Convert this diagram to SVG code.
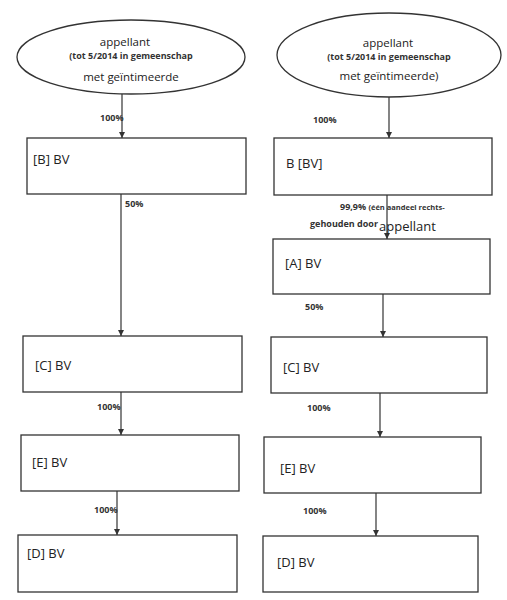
<svg xmlns="http://www.w3.org/2000/svg" width="507" height="600" viewBox="0 0 507 600">
<style>
.box{fill:#fff;stroke:#333;stroke-width:1.3}
.lbl{font-family:"Open Sans","Liberation Sans",sans-serif;font-size:13px;fill:#222}
.et{font-family:"Open Sans","Liberation Sans",sans-serif;font-size:11.5px;fill:#222;text-anchor:middle}
.sm{font-family:"Open Sans","Liberation Sans",sans-serif;font-size:9px;font-weight:bold;fill:#333}
.smc{font-family:"Open Sans","Liberation Sans",sans-serif;font-size:9px;font-weight:bold;fill:#333;text-anchor:middle}
.c{stroke:#333;stroke-width:1.2;fill:none;marker-end:url(#ah)}
</style>
<defs>
<marker id="ah" markerWidth="8" markerHeight="8" refX="6" refY="3" orient="auto" markerUnits="userSpaceOnUse">
<path d="M0,0 L6,3 L0,6 Z" fill="#333"/>
</marker>
</defs>
<rect width="507" height="600" fill="#fff"/>
<g id="connectors">
<line class="c" x1="122" y1="94" x2="122" y2="138"/>
<line class="c" x1="121" y1="194" x2="121" y2="336"/>
<line class="c" x1="121" y1="392" x2="121" y2="435"/>
<line class="c" x1="117" y1="491" x2="117" y2="535"/>
<line class="c" x1="389" y1="97" x2="389" y2="138"/>
<line class="c" x1="387" y1="195" x2="387" y2="239"/>
<line class="c" x1="383" y1="294" x2="383" y2="337"/>
<line class="c" x1="380" y1="393" x2="380" y2="437"/>
<line class="c" x1="376" y1="493" x2="376" y2="536"/>
<text class="sm" x="100" y="121">100%</text>
<text class="sm" x="125" y="207">50%</text>
<text class="sm" x="97" y="410">100%</text>
<text class="sm" x="94" y="513">100%</text>
<text class="sm" x="313" y="123">100%</text>
<text class="sm" x="340" y="210">99,9% <tspan font-size="7.5px">(één aandeel rechts-</tspan></text>
<text class="sm" x="310" y="227" font-size="7px">gehouden door</text>
<text class="lbl" x="379" y="231" font-size="12px">appellant</text>
<text class="sm" x="305" y="310">50%</text>
<text class="sm" x="307" y="411">100%</text>
<text class="sm" x="303" y="514">100%</text>
</g>
<g id="appellant-left">
<ellipse cx="131" cy="57" rx="114" ry="37" fill="#fff" stroke="#333" stroke-width="1.3"/>
<text class="et" x="125" y="46">appellant</text>
<text class="smc" x="131" y="59">(tot 5/2014 in gemeenschap</text>
<text class="et" x="131" y="81">met geïntimeerde</text>
</g>
<g id="B-left"><rect class="box" x="27" y="138" width="219" height="56"/><text class="lbl" x="33" y="164">[B] BV</text></g>
<g id="C-left"><rect class="box" x="23" y="336" width="219" height="56"/><text class="lbl" x="35" y="370">[C] BV</text></g>
<g id="E-left"><rect class="box" x="21" y="435" width="218" height="56"/><text class="lbl" x="32" y="467">[E] BV</text></g>
<g id="D-left"><rect class="box" x="18" y="535" width="219" height="57"/><text class="lbl" x="27" y="558">[D] BV</text></g>
<g id="appellant-right">
<ellipse cx="389" cy="55" rx="112" ry="42" fill="#fff" stroke="#333" stroke-width="1.3"/>
<text class="et" x="388" y="47">appellant</text>
<text class="smc" x="389" y="60">(tot 5/2014 in gemeenschap</text>
<text class="et" x="389" y="80">met geïntimeerde)</text>
</g>
<g id="B-right"><rect class="box" x="274" y="138" width="218" height="57"/><text class="lbl" x="286" y="168">B [BV]</text></g>
<g id="A-right"><rect class="box" x="273" y="239" width="217" height="55"/><text class="lbl" x="285" y="268">[A] BV</text></g>
<g id="C-right"><rect class="box" x="271" y="337" width="216" height="56"/><text class="lbl" x="283" y="372">[C] BV</text></g>
<g id="E-right"><rect class="box" x="264" y="437" width="217" height="56"/><text class="lbl" x="280" y="473">[E] BV</text></g>
<g id="D-right"><rect class="box" x="263" y="536" width="215" height="56"/><text class="lbl" x="277" y="567">[D] BV</text></g>
</svg>
